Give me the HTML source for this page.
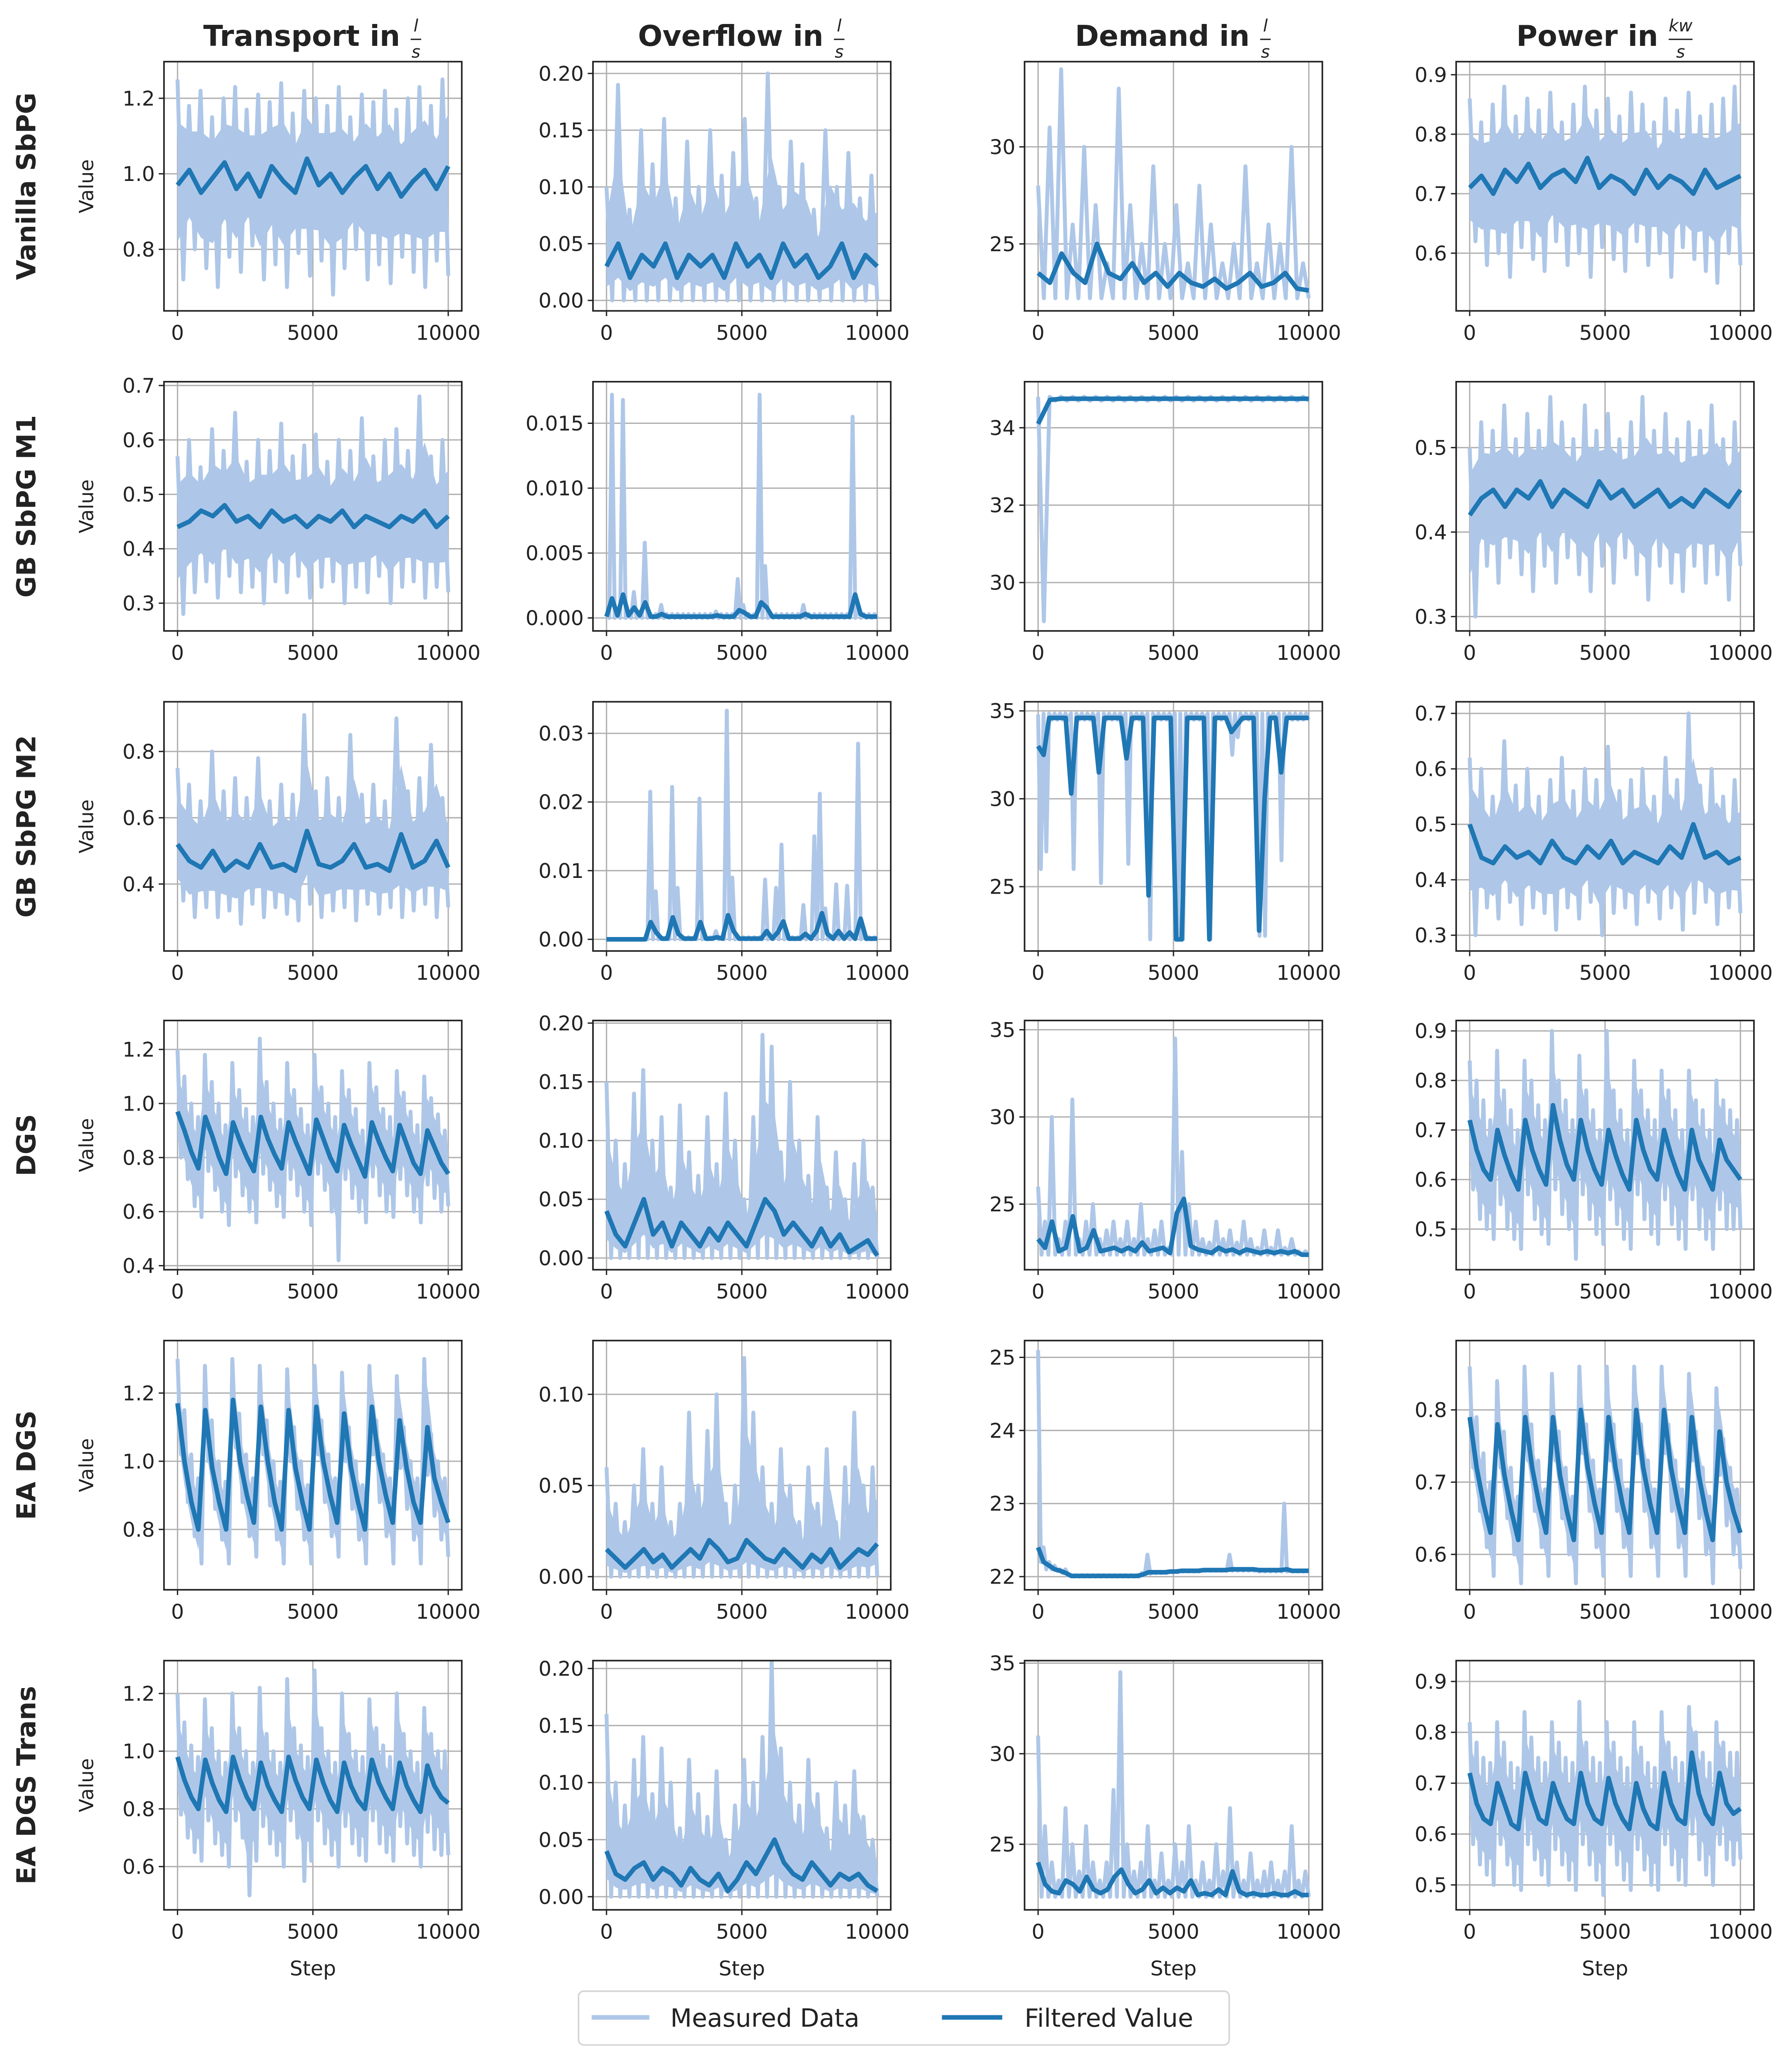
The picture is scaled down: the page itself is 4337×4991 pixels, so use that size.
<!DOCTYPE html>
<html><head><meta charset="utf-8">
<style>
html,body{margin:0;padding:0;background:#fff;}
svg{display:block;}
text{font-family:"DejaVu Sans","Liberation Sans",sans-serif;fill:#222;}
</style></head>
<body>
<svg id="fig" xmlns="http://www.w3.org/2000/svg" width="4337" height="4991" viewBox="0 0 1366 1572">
<rect x="0" y="0" width="1366" height="1572" fill="#fff"/>
<g id="plots"></g>
<g id="legend">
  <rect x="441" y="1518" width="496" height="41" rx="4" fill="#fff" stroke="#d5d5d5" stroke-width="1.2"/>
  <line x1="451" y1="1538" x2="495" y2="1538" stroke="#aec7e8" stroke-width="3.5"/>
  <text x="511" y="1545" font-size="19">Measured Data</text>
  <line x1="718" y1="1538" x2="764" y2="1538" stroke="#1f77b4" stroke-width="3.5"/>
  <text x="781" y="1545" font-size="19">Filtered Value</text>
</g>
</svg>
<script>
// ---- column / row labels ----
const colTitles=["Transport in","Overflow in","Demand in","Power in"];
const colUnitsNum=["l","l","l","kw"];
const colUnitsDen=["s","s","s","s"];
const rowTitles=["Vanilla SbPG","GB SbPG M1","GB SbPG M2","DGS","EA DGS","EA DGS Trans"];
const xTicks=[0,5000,10000];
const xTickLabels=["0","5000","10000"];

// ---- data ----
const z24=[0,0,0,0,0,0,0,0,0,0,0,0,0,0,0,0,0,0,0,0,0,0,0,0];
const z30=[0,0,0,0,0,0,0,0,0,0,0,0,0,0,0,0,0,0,0,0,0,0,0,0,0,0,0,0,0,0];
const z50=[0,0,0,0,0,0,0,0,0,0,0,0,0,0,0,0,0,0,0,0,0,0,0,0,0,0,0,0,0,0,0,0,0,0,0,0,0,0,0,0,0,0,0,0,0,0,0,0,0,0];
const base22_24=[22.2,22.2,22.2,22.2,22.2,22.2,22.2,22.2,22.2,22.2,22.2,22.2,22.2,22.2,22.2,22.2,22.2,22.2,22.2,22.2,22.2,22.2,22.2,22.2];
const base22_40=[22.1,22.1,22.1,22.1,22.1,22.1,22.1,22.1,22.1,22.1,22.1,22.1,22.1,22.1,22.1,22.1,22.1,22.1,22.1,22.1,22.1,22.1,22.1,22.1,22.1,22.1,22.1,22.1,22.1,22.1,22.1,22.1,22.1,22.1,22.1,22.1,22.1,22.1,22.1,22.1];

const r1c1Hi=[1.25,1.18,1.22,1.15,1.2,1.23,1.17,1.21,1.19,1.24,1.16,1.22,1.2,1.18,1.23,1.15,1.21,1.19,1.22,1.17,1.2,1.23,1.18,1.25];
const r1c1Lo=[0.72,0.8,0.75,0.7,0.78,0.74,0.81,0.72,0.76,0.7,0.79,0.73,0.77,0.68,0.75,0.8,0.72,0.76,0.71,0.78,0.74,0.7,0.77,0.73];
const r1c1F=[0.97,1.01,0.95,0.99,1.03,0.96,1.0,0.94,1.02,0.98,0.95,1.04,0.97,1.0,0.95,0.99,1.02,0.96,1.0,0.94,0.98,1.01,0.96,1.02];

const r1c2Hi=[0.1,0.19,0.08,0.15,0.12,0.16,0.09,0.14,0.1,0.15,0.11,0.13,0.16,0.09,0.2,0.1,0.14,0.12,0.08,0.15,0.1,0.13,0.09,0.11];
const r1c2F=[0.03,0.05,0.02,0.04,0.03,0.05,0.02,0.04,0.03,0.04,0.02,0.05,0.03,0.04,0.02,0.05,0.03,0.04,0.02,0.03,0.05,0.02,0.04,0.03];

const r1c3Hi=[28,31,34,26,30,27,24,33,27,25,29,25,27,24,28,26,24,25,29,24,26,25,30,24];
const r1c3F=[23.5,23,24.5,23.5,23,25,23.5,23.2,24,23,23.5,22.8,23.5,23,22.8,23.2,22.7,23,23.5,22.8,23,23.5,22.7,22.6];

const r1c4Hi=[0.86,0.82,0.85,0.88,0.83,0.86,0.84,0.87,0.82,0.85,0.88,0.84,0.86,0.83,0.87,0.85,0.82,0.86,0.84,0.87,0.83,0.85,0.86,0.88];
const r1c4Lo=[0.62,0.58,0.6,0.56,0.61,0.59,0.57,0.62,0.58,0.6,0.56,0.61,0.59,0.57,0.62,0.58,0.6,0.56,0.61,0.59,0.57,0.55,0.6,0.58];
const r1c4F=[0.71,0.73,0.7,0.74,0.72,0.75,0.71,0.73,0.74,0.72,0.76,0.71,0.73,0.72,0.7,0.74,0.71,0.73,0.72,0.7,0.74,0.71,0.72,0.73];

const r2c1Hi=[0.57,0.6,0.55,0.62,0.58,0.65,0.56,0.6,0.58,0.63,0.57,0.59,0.61,0.56,0.6,0.58,0.64,0.57,0.6,0.62,0.58,0.68,0.57,0.6];
const r2c1Lo=[0.28,0.32,0.34,0.31,0.35,0.32,0.33,0.3,0.34,0.32,0.35,0.31,0.33,0.34,0.3,0.33,0.32,0.35,0.3,0.33,0.34,0.31,0.33,0.32];
const r2c1F=[0.44,0.45,0.47,0.46,0.48,0.45,0.46,0.44,0.47,0.45,0.46,0.44,0.46,0.45,0.47,0.44,0.46,0.45,0.44,0.46,0.45,0.47,0.44,0.46];

const r2c2Hi=[0.0003,0.0172,0.0003,0.0168,0.0003,0.002,0.0003,0.0058,0.0003,0.0003,0.001,0.0003,0.0003,0.0003,0.0003,0.0003,0.0003,0.0003,0.0003,0.0003,0.0005,0.0003,0.0003,0.0003,0.003,0.001,0.0003,0.0003,0.0172,0.004,0.0003,0.0003,0.0003,0.0003,0.0003,0.0003,0.001,0.0003,0.0003,0.0003,0.0003,0.0003,0.0003,0.0003,0.0003,0.0155,0.001,0.0003,0.0003,0.0003];
const r2c2F=[0.0001,0.0015,0.0002,0.0018,0.0002,0.0008,0.0002,0.0012,0.0001,0.0001,0.0003,0.0001,0.0001,0.0001,0.0001,0.0001,0.0001,0.0001,0.0001,0.0001,0.0002,0.0001,0.0001,0.0001,0.0006,0.0004,0.0001,0.0001,0.0012,0.0008,0.0001,0.0001,0.0001,0.0001,0.0001,0.0001,0.0003,0.0001,0.0001,0.0001,0.0001,0.0001,0.0001,0.0001,0.0001,0.0018,0.0003,0.0001,0.0001,0.0001];

const r2c3Hi=[34.8,34.8,34.8,34.8,34.8,34.8,34.8,34.8,34.8,34.8,34.8,34.8,34.8,34.8,34.8,34.8,34.8,34.8,34.8,34.8,34.8,34.8,34.8,34.8];
const r2c3Lo=[29.0,34.7,34.7,34.7,34.7,34.7,34.7,34.7,34.7,34.7,34.7,34.7,34.7,34.7,34.7,34.7,34.7,34.7,34.7,34.7,34.7,34.7,34.7,34.7];
const r2c3F=[34.1,34.72,34.75,34.75,34.75,34.75,34.75,34.75,34.75,34.75,34.75,34.75,34.75,34.75,34.75,34.75,34.75,34.75,34.75,34.75,34.75,34.75,34.75,34.75];

const r2c4Hi=[0.5,0.53,0.52,0.55,0.51,0.54,0.52,0.56,0.53,0.51,0.55,0.52,0.54,0.51,0.53,0.56,0.52,0.54,0.51,0.53,0.52,0.55,0.51,0.53];
const r2c4Lo=[0.3,0.36,0.34,0.37,0.35,0.33,0.36,0.34,0.37,0.35,0.33,0.36,0.34,0.37,0.35,0.32,0.36,0.34,0.33,0.36,0.34,0.35,0.32,0.36];
const r2c4F=[0.42,0.44,0.45,0.43,0.45,0.44,0.46,0.43,0.45,0.44,0.43,0.46,0.44,0.45,0.43,0.44,0.45,0.43,0.44,0.43,0.45,0.44,0.43,0.45];

const r3c1Hi=[0.75,0.7,0.65,0.8,0.68,0.72,0.66,0.78,0.65,0.7,0.67,0.91,0.68,0.72,0.66,0.85,0.67,0.7,0.65,0.9,0.68,0.72,0.82,0.66];
const r3c1Lo=[0.35,0.3,0.33,0.3,0.32,0.28,0.34,0.3,0.33,0.31,0.29,0.34,0.3,0.32,0.33,0.29,0.34,0.31,0.33,0.3,0.32,0.34,0.3,0.33];
const r3c1F=[0.52,0.47,0.45,0.5,0.44,0.47,0.45,0.52,0.45,0.46,0.44,0.56,0.46,0.45,0.47,0.52,0.45,0.46,0.44,0.55,0.45,0.47,0.53,0.45];

const r3c2Hi=[0,0,0,0,0,0,0,0,0.0215,0.007,0.0003,0.0003,0.0222,0.0075,0.0003,0.0003,0.0003,0.0205,0.0003,0.0003,0.0012,0.0003,0.0333,0.009,0.0003,0.0003,0.0003,0.0003,0.0003,0.0087,0.0003,0.0075,0.0138,0.0003,0.0003,0.0003,0.005,0.0003,0.015,0.0212,0.0045,0.0003,0.008,0.0003,0.0078,0.0003,0.0285,0.0003,0.0003,0.0003];
const r3c2F=[0,0,0,0,0,0,0,0,0.0025,0.001,0.0001,0.0001,0.0032,0.0008,0.0001,0.0001,0.0001,0.0025,0.0001,0.0001,0.0003,0.0001,0.0035,0.0012,0.0001,0.0001,0.0001,0.0001,0.0001,0.0012,0.0001,0.001,0.0026,0.0001,0.0001,0.0001,0.0008,0.0001,0.0012,0.0038,0.0008,0.0001,0.0012,0.0001,0.001,0.0001,0.003,0.0001,0.0001,0.0001];

const r3c3Hi=[34.8,34.85,34.85,34.85,34.85,34.85,34.85,34.85,34.85,34.85,34.85,34.85,34.85,34.85,34.85,34.85,34.85,34.85,34.85,34.85,34.85,34.85,34.85,34.85,34.85,34.85,34.85,34.85,34.85,34.85,34.85,34.85,34.85,34.85,34.85,34.85,34.85,34.85,34.85,34.85,34.85,34.85,34.85,34.85,34.85,34.85,34.85,34.85,34.85,34.85];
const r3c3Lo=[26,27,34.5,34.5,34.5,34.5,26,34.5,34.5,34.5,34.5,25.2,34.5,34.5,34.5,34.5,26.3,34.5,34.5,34.5,22,34.5,34.5,34.5,34.5,22,22,34.5,34.5,34.5,34.5,22,34.5,34.5,34.5,32.5,33.5,34.5,34.5,34.5,22.2,22.2,34.5,34.5,26.5,34.5,34.5,34.5,34.5,34.5];
const r3c3F=[33,32.5,34.6,34.6,34.6,34.6,30.3,34.6,34.6,34.6,34.6,31.5,34.6,34.6,34.6,34.6,32.3,34.6,34.6,34.6,24.5,34.6,34.6,34.6,34.6,22,22,34.6,34.6,34.6,34.6,22,34.6,34.6,34.6,33.8,34.2,34.6,34.6,34.6,22.5,30,34.6,34.6,31.5,34.6,34.6,34.6,34.6,34.6];

const r3c4Hi=[0.62,0.6,0.55,0.65,0.57,0.6,0.55,0.58,0.62,0.56,0.6,0.58,0.64,0.56,0.58,0.6,0.55,0.62,0.58,0.7,0.57,0.6,0.55,0.58];
const r3c4Lo=[0.3,0.35,0.33,0.36,0.32,0.35,0.34,0.31,0.35,0.33,0.36,0.3,0.34,0.35,0.32,0.36,0.33,0.35,0.31,0.34,0.36,0.32,0.35,0.34];
const r3c4F=[0.5,0.44,0.43,0.46,0.44,0.45,0.43,0.47,0.44,0.43,0.46,0.44,0.47,0.43,0.45,0.44,0.43,0.46,0.44,0.5,0.44,0.45,0.43,0.44];

const r4c1Hi=[1.2,1.1,1.0,0.95,1.18,1.08,1.0,0.92,1.15,1.05,0.98,0.95,1.24,1.08,1.0,0.94,1.15,1.05,0.98,0.92,1.18,1.06,1.0,0.95,1.12,1.05,0.98,0.9,1.15,1.06,0.98,0.95,1.12,1.04,0.97,0.92,1.1,1.02,0.96,0.9];
const r4c1Lo=[0.8,0.72,0.62,0.58,0.75,0.68,0.6,0.55,0.73,0.66,0.6,0.56,0.74,0.68,0.62,0.58,0.72,0.66,0.6,0.55,0.74,0.68,0.6,0.42,0.72,0.65,0.6,0.56,0.73,0.66,0.6,0.58,0.72,0.66,0.6,0.56,0.7,0.65,0.6,0.62];
const r4c1F=[0.97,0.9,0.82,0.76,0.95,0.88,0.8,0.74,0.93,0.86,0.8,0.75,0.95,0.87,0.81,0.76,0.93,0.86,0.8,0.74,0.94,0.87,0.8,0.75,0.92,0.85,0.79,0.73,0.93,0.86,0.8,0.75,0.92,0.85,0.78,0.74,0.9,0.84,0.78,0.74];

const r4c2Hi=[0.15,0.1,0.08,0.14,0.16,0.1,0.12,0.06,0.13,0.09,0.07,0.12,0.08,0.14,0.1,0.05,0.12,0.19,0.18,0.09,0.15,0.1,0.07,0.12,0.06,0.09,0.05,0.08,0.1,0.06];
const r4c2F=[0.04,0.02,0.01,0.03,0.05,0.02,0.03,0.01,0.03,0.02,0.01,0.025,0.015,0.03,0.02,0.01,0.03,0.05,0.04,0.02,0.03,0.02,0.01,0.025,0.01,0.02,0.005,0.01,0.015,0.002];

const r4c3Hi=[26,24,30,23,24,31,23,24,25,23,23.5,24,23,24,23,25,23,23.5,24,22.5,34.5,28,25,24,23,22.8,24,23,23.5,22.8,24,23,22.5,23.5,22.5,23.5,22.5,23,22.3,22.3];
const r4c3F=[23,22.5,24,22.3,22.5,24.3,22.3,22.5,23.5,22.3,22.4,22.5,22.3,22.5,22.3,22.8,22.3,22.4,22.5,22.2,24.5,25.3,22.6,22.4,22.3,22.2,22.5,22.3,22.4,22.2,22.4,22.3,22.2,22.3,22.2,22.3,22.2,22.3,22.1,22.1];

const r4c4Hi=[0.84,0.8,0.76,0.72,0.86,0.78,0.74,0.7,0.84,0.8,0.75,0.72,0.9,0.8,0.76,0.72,0.85,0.78,0.74,0.7,0.9,0.78,0.74,0.7,0.84,0.78,0.74,0.72,0.82,0.78,0.74,0.7,0.82,0.76,0.74,0.7,0.8,0.76,0.74,0.72];
const r4c4Lo=[0.58,0.52,0.5,0.48,0.55,0.5,0.48,0.46,0.57,0.52,0.49,0.47,0.58,0.53,0.5,0.44,0.57,0.52,0.49,0.47,0.56,0.51,0.48,0.46,0.57,0.52,0.49,0.47,0.56,0.51,0.48,0.46,0.56,0.5,0.48,0.46,0.54,0.5,0.5,0.5];
const r4c4F=[0.72,0.66,0.62,0.6,0.7,0.65,0.61,0.58,0.72,0.66,0.62,0.59,0.75,0.68,0.63,0.6,0.72,0.66,0.62,0.59,0.7,0.65,0.61,0.58,0.72,0.66,0.62,0.6,0.7,0.65,0.61,0.58,0.7,0.64,0.61,0.58,0.68,0.64,0.62,0.6];

const r5c1Hi=[1.3,1.15,1.02,0.95,1.28,1.12,1.0,0.94,1.3,1.14,1.02,0.95,1.28,1.12,1.0,0.94,1.27,1.1,1.0,0.93,1.28,1.12,1.02,0.95,1.26,1.1,1.0,0.93,1.28,1.12,1.02,0.95,1.25,1.1,1.0,0.95,1.3,1.08,1.0,0.95];
const r5c1Lo=[1.02,0.88,0.78,0.7,1.0,0.86,0.77,0.7,1.04,0.88,0.78,0.72,1.02,0.87,0.77,0.7,1.0,0.86,0.77,0.7,1.02,0.88,0.78,0.72,1.0,0.86,0.77,0.7,1.02,0.88,0.78,0.7,0.98,0.86,0.77,0.7,0.96,0.84,0.77,0.72];
const r5c1F=[1.17,1.0,0.88,0.8,1.15,0.98,0.88,0.8,1.18,1.0,0.9,0.82,1.16,1.0,0.88,0.8,1.15,0.98,0.88,0.8,1.16,1.0,0.9,0.82,1.14,0.98,0.88,0.8,1.16,1.0,0.9,0.82,1.12,0.98,0.88,0.82,1.1,0.95,0.88,0.82];

const r5c2Hi=[0.06,0.04,0.03,0.05,0.07,0.04,0.06,0.03,0.04,0.09,0.05,0.08,0.1,0.04,0.05,0.12,0.09,0.06,0.04,0.07,0.05,0.03,0.06,0.04,0.07,0.03,0.06,0.09,0.05,0.06];
const r5c2F=[0.015,0.01,0.005,0.01,0.015,0.008,0.012,0.005,0.01,0.015,0.01,0.02,0.015,0.008,0.01,0.02,0.015,0.01,0.008,0.015,0.01,0.005,0.012,0.008,0.015,0.005,0.01,0.015,0.012,0.018];

const r5c3Hi=[25.1,22.4,22.2,22.15,22.1,22.1,22.02,22.02,22.02,22.02,22.02,22.02,22.02,22.02,22.02,22.02,22.02,22.02,22.02,22.05,22.3,22.06,22.06,22.06,22.07,22.07,22.08,22.08,22.08,22.08,22.09,22.09,22.09,22.09,22.09,22.3,22.1,22.1,22.1,22.1,22.09,22.09,22.09,22.09,22.09,23.0,22.08,22.08,22.08,22.08];
const r5c3Lo=[22.2,22.1,22.1,22.08,22.05,22.02,22.0,22.0,22.0,22.0,22.0,22.0,22.0,22.0,22.0,22.0,22.0,22.0,22.0,22.02,22.04,22.05,22.05,22.05,22.06,22.06,22.07,22.07,22.07,22.07,22.08,22.08,22.08,22.08,22.08,22.08,22.08,22.08,22.08,22.08,22.07,22.07,22.07,22.07,22.07,22.07,22.07,22.07,22.07,22.07];
const r5c3F=[22.4,22.2,22.15,22.1,22.08,22.05,22.01,22.01,22.01,22.01,22.01,22.01,22.01,22.01,22.01,22.01,22.01,22.01,22.01,22.03,22.06,22.06,22.06,22.06,22.07,22.07,22.08,22.08,22.08,22.08,22.09,22.09,22.09,22.09,22.09,22.1,22.1,22.1,22.1,22.1,22.09,22.09,22.09,22.09,22.09,22.1,22.08,22.08,22.08,22.08];

const r5c4Hi=[0.86,0.79,0.74,0.7,0.84,0.77,0.72,0.68,0.86,0.78,0.73,0.69,0.85,0.77,0.72,0.68,0.86,0.78,0.73,0.69,0.86,0.78,0.73,0.69,0.86,0.78,0.73,0.69,0.86,0.78,0.73,0.69,0.85,0.77,0.72,0.68,0.83,0.76,0.72,0.69];
const r5c4Lo=[0.72,0.66,0.61,0.57,0.72,0.65,0.6,0.56,0.73,0.66,0.61,0.57,0.73,0.65,0.6,0.56,0.74,0.66,0.61,0.57,0.73,0.66,0.61,0.57,0.74,0.66,0.61,0.57,0.74,0.66,0.61,0.57,0.73,0.65,0.6,0.56,0.71,0.64,0.6,0.58];
const r5c4F=[0.79,0.72,0.67,0.63,0.78,0.71,0.66,0.62,0.79,0.72,0.67,0.63,0.79,0.71,0.66,0.62,0.8,0.72,0.67,0.63,0.79,0.72,0.67,0.63,0.8,0.72,0.67,0.63,0.8,0.72,0.67,0.63,0.79,0.71,0.66,0.62,0.77,0.7,0.66,0.63];

const r6c1Hi=[1.2,1.1,1.02,0.98,1.18,1.08,1.0,0.96,1.2,1.08,1.0,0.96,1.22,1.06,1.0,0.96,1.25,1.08,1.02,0.98,1.28,1.08,1.0,0.96,1.2,1.06,1.0,0.98,1.18,1.08,1.02,0.98,1.2,1.06,1.0,0.96,1.15,1.06,1.0,1.0];
const r6c1Lo=[0.78,0.7,0.65,0.62,0.76,0.68,0.64,0.6,0.76,0.7,0.5,0.62,0.74,0.68,0.64,0.6,0.76,0.7,0.55,0.62,0.76,0.68,0.64,0.6,0.74,0.68,0.64,0.62,0.76,0.68,0.65,0.62,0.74,0.68,0.64,0.6,0.72,0.66,0.64,0.64];
const r6c1F=[0.98,0.9,0.84,0.8,0.97,0.89,0.83,0.79,0.98,0.9,0.84,0.8,0.96,0.88,0.83,0.79,0.98,0.9,0.84,0.8,0.97,0.89,0.83,0.79,0.96,0.88,0.83,0.8,0.97,0.89,0.84,0.8,0.96,0.88,0.83,0.79,0.95,0.88,0.84,0.82];

const r6c2Hi=[0.16,0.1,0.08,0.12,0.14,0.09,0.13,0.1,0.06,0.12,0.09,0.07,0.11,0.05,0.08,0.12,0.1,0.14,0.21,0.13,0.1,0.08,0.12,0.09,0.06,0.1,0.08,0.11,0.07,0.05];
const r6c2F=[0.04,0.02,0.015,0.025,0.03,0.015,0.025,0.02,0.01,0.025,0.015,0.01,0.02,0.005,0.015,0.03,0.02,0.035,0.05,0.03,0.02,0.015,0.03,0.02,0.01,0.02,0.015,0.02,0.01,0.005];

const r6c3Hi=[31,26,24,23,27,25,23.5,26,24,23,24,28,34.5,25,23.5,24,26,23,24.5,23,25,24,26,23,24,23,25,23.5,27,24,23,24.5,23,23.5,24,23,23.5,26,23,23.5];
const r6c3F=[24,22.8,22.4,22.3,23,22.8,22.4,23.2,22.5,22.3,22.5,23.2,23.6,22.8,22.3,22.5,23,22.3,22.6,22.3,22.6,22.4,23,22.2,22.3,22.2,22.5,22.2,23.5,22.4,22.2,22.3,22.2,22.2,22.3,22.2,22.2,22.4,22.2,22.2];

const r6c4Hi=[0.82,0.78,0.75,0.74,0.82,0.78,0.74,0.73,0.84,0.79,0.75,0.74,0.82,0.78,0.75,0.74,0.86,0.78,0.75,0.74,0.82,0.78,0.75,0.73,0.82,0.77,0.74,0.73,0.84,0.78,0.75,0.74,0.85,0.8,0.76,0.74,0.82,0.78,0.76,0.76];
const r6c4Lo=[0.58,0.54,0.52,0.5,0.58,0.54,0.5,0.49,0.58,0.55,0.52,0.5,0.57,0.54,0.51,0.49,0.58,0.54,0.51,0.48,0.58,0.54,0.51,0.49,0.57,0.53,0.5,0.49,0.58,0.54,0.51,0.5,0.6,0.55,0.52,0.5,0.58,0.55,0.54,0.55];
const r6c4F=[0.72,0.66,0.63,0.62,0.7,0.66,0.62,0.61,0.72,0.67,0.63,0.62,0.7,0.66,0.63,0.62,0.72,0.66,0.63,0.62,0.71,0.66,0.63,0.61,0.7,0.65,0.62,0.61,0.72,0.66,0.63,0.62,0.76,0.68,0.64,0.62,0.72,0.66,0.64,0.65];

// y tick values per subplot
const yT=[
 [[0.8,1.0,1.2],[0,0.05,0.1,0.15,0.2],[25,30],[0.6,0.7,0.8,0.9]],
 [[0.3,0.4,0.5,0.6,0.7],[0,0.005,0.01,0.015],[30,32,34],[0.3,0.4,0.5]],
 [[0.4,0.6,0.8],[0,0.01,0.02,0.03],[25,30,35],[0.3,0.4,0.5,0.6,0.7]],
 [[0.4,0.6,0.8,1.0,1.2],[0,0.05,0.1,0.15,0.2],[25,30,35],[0.5,0.6,0.7,0.8,0.9]],
 [[0.8,1.0,1.2],[0,0.05,0.1],[22,23,24,25],[0.6,0.7,0.8]],
 [[0.6,0.8,1.0,1.2],[0,0.05,0.1,0.15,0.2],[25,30,35],[0.5,0.6,0.7,0.8,0.9]]
];

// ---- layout ----
const colX=[125,452,781,1110], axW=227;
const rowY=[47,291,535,778,1022,1266], axH=190;
const xMin=-500, xMax=10500;
const ylims=[
 [[0.637,1.297],[-0.0092,0.2104],[21.55,34.39],[0.503,0.922]],
 [[0.249,0.707],[-0.001,0.0182],[28.75,35.19],[0.283,0.578]],
 [[0.198,0.95],[-0.0017,0.0346],[21.34,35.52],[0.2716,0.721]],
 [[0.385,1.307],[-0.01,0.2022],[21.24,35.53],[0.418,0.921]],
 [[0.623,1.354],[-0.0072,0.1295],[21.82,25.23],[0.551,0.896]],
 [[0.45,1.314],[-0.0115,0.2069],[21.38,35.14],[0.451,0.941]]
];
const decs=[[1,2,0,1],[1,3,0,1],[1,2,0,1],[1,2,0,1],[1,2,0,1],[1,2,0,1]];
const bandRows=[[true,true,false,true],[true,false,false,true],[true,false,false,true],[true,true,false,true],[true,true,false,true],[true,true,false,true]];
const series=[
 [[r1c1Hi,r1c1Lo,r1c1F],[r1c2Hi,z24,r1c2F],[r1c3Hi,base22_24,r1c3F],[r1c4Hi,r1c4Lo,r1c4F]],
 [[r2c1Hi,r2c1Lo,r2c1F],[r2c2Hi,z50,r2c2F],[r2c3Hi,r2c3Lo,r2c3F],[r2c4Hi,r2c4Lo,r2c4F]],
 [[r3c1Hi,r3c1Lo,r3c1F],[r3c2Hi,z50,r3c2F],[r3c3Hi,r3c3Lo,r3c3F],[r3c4Hi,r3c4Lo,r3c4F]],
 [[r4c1Hi,r4c1Lo,r4c1F],[r4c2Hi,z30,r4c2F],[r4c3Hi,base22_40,r4c3F],[r4c4Hi,r4c4Lo,r4c4F]],
 [[r5c1Hi,r5c1Lo,r5c1F],[r5c2Hi,z30,r5c2F],[r5c3Hi,r5c3Lo,r5c3F],[r5c4Hi,r5c4Lo,r5c4F]],
 [[r6c1Hi,r6c1Lo,r6c1F],[r6c2Hi,z30,r6c2F],[r6c3Hi,base22_40,r6c3F],[r6c4Hi,r6c4Lo,r6c4F]]
];

const NS="http://www.w3.org/2000/svg";
function mk(tag,attrs,parent){const e=document.createElementNS(NS,tag);for(const k in attrs)e.setAttribute(k,attrs[k]);if(parent)parent.appendChild(e);return e;}
const root=document.getElementById('plots');
const fig=document.getElementById('fig');

// column titles
for(let c=0;c<4;c++){
  const g=mk('g',{},fig);
  
  
  const t=mk('text',{x:0,y:35,'font-size':22,'font-weight':'bold'},g);
  t.textContent=colTitles[c];
  const w=t.getComputedTextLength()+7;
  const num=mk('text',{x:0,y:24,'font-size':13,'font-style':'italic','text-anchor':'middle'},g);
  num.textContent=colUnitsNum[c];
  const fw=Math.max(8,num.getComputedTextLength());
  const den=mk('text',{x:0,y:44,'font-size':13,'font-style':'italic','text-anchor':'middle'},g);
  den.textContent=colUnitsDen[c];
  const total=w+fw+2;
  const cx=colX[c]+axW/2, x0=cx-total/2;
  t.setAttribute('x',x0);
  const fx=x0+w+fw/2+1;
  num.setAttribute('x',fx);den.setAttribute('x',fx);
  mk('line',{x1:fx-fw/2,x2:fx+fw/2,y1:30,y2:30,stroke:'#222','stroke-width':1},g);
}
// row titles
for(let r=0;r<6;r++){
  const cy=rowY[r]+axH/2;
  const t=mk('text',{x:0,y:0,'font-size':20,'font-weight':'bold','text-anchor':'middle',transform:`translate(27,${cy}) rotate(-90)`},fig);
  
  
  t.textContent=rowTitles[r];
  const v=mk('text',{x:0,y:0,'font-size':15,'text-anchor':'middle',transform:`translate(71,${cy}) rotate(-90)`},fig);
  
  
  v.textContent='Value';
}

for(let r=0;r<6;r++)for(let c=0;c<4;c++){
  const L=colX[c],T=rowY[r],B=T+axH,R=L+axW;
  const [y0,y1]=ylims[r][c];
  const xs=v=>L+(v-xMin)/(xMax-xMin)*axW;
  const ys=v=>B-(v-y0)/(y1-y0)*axH;
  const g=mk('g',{},root);
  
  
  const cid=`clip${r}${c}`;
  const cp=mk('clipPath',{id:cid},g);mk('rect',{x:L,y:T,width:axW,height:axH},cp);
  xTicks.forEach((t,i)=>{
    const gl=mk('line',{x1:xs(t),x2:xs(t),y1:T,y2:B,stroke:'#b0b0b0','stroke-width':1},g);
    
    
    mk('line',{x1:xs(t),x2:xs(t),y1:B,y2:B+4,stroke:'#222','stroke-width':1},g);
    const tl=mk('text',{x:xs(t),y:B+22,'font-size':15.5,'text-anchor':'middle'},g);
    
    
    tl.textContent=xTickLabels[i];
  });
  yT[r][c].forEach(t=>{
    const gl=mk('line',{x1:L,x2:R,y1:ys(t),y2:ys(t),stroke:'#b0b0b0','stroke-width':1},g);
    
    
    mk('line',{x1:L-4,x2:L,y1:ys(t),y2:ys(t),stroke:'#222','stroke-width':1},g);
    const tl=mk('text',{x:L-7,y:ys(t)+5.5,'font-size':15.5,'text-anchor':'end'},g);
    
    
    tl.textContent=t.toFixed(decs[r][c]);
  });
  const [hi,lo,f]=series[r][c];
  const dg=mk('g',{'clip-path':`url(#${cid})`},g);
  const n=hi.length;
  if(bandRows[r][c]){
    const fi=i=>f[Math.round(i*(f.length-1)/(n-1))];
    let p='';
    for(let i=0;i<n;i++)p+=(i?'L':'M')+xs(i*10000/(n-1))+','+ys(hi[i]*0.6+fi(i)*0.4);
    for(let i=n-1;i>=0;i--)p+='L'+xs(i*10000/(n-1))+','+ys(lo[i]*0.6+fi(i)*0.4);
    const band=mk('path',{d:p+'Z',fill:'#aec7e8',stroke:'none'},dg);
    
    
  }
  let pm='';const m=2*n;
  for(let k=0;k<m;k++){const v=(k%2===0)?hi[k>>1]:lo[k>>1];pm+=(k?'L':'M')+xs(k*10000/(m-1))+','+ys(v);}
  const ml=mk('path',{d:pm,fill:'none',stroke:'#aec7e8','stroke-width':3,'stroke-linejoin':'round'},dg);
  
  
  let pf='';
  for(let i=0;i<f.length;i++)pf+=(i?'L':'M')+xs(i*10000/(f.length-1))+','+ys(f[i]);
  const fl=mk('path',{d:pf,fill:'none',stroke:'#1f77b4','stroke-width':3.5,'stroke-linejoin':'round'},dg);
  
  
  const fr=mk('rect',{x:L,y:T,width:axW,height:axH,fill:'none',stroke:'#222','stroke-width':1.2},g);
  
  
  if(r===5){
    const st=mk('text',{x:L+axW/2,y:1506,'font-size':15.5,'text-anchor':'middle'},g);
    
    
    st.textContent='Step';
  }
}
</script>
</body></html>
